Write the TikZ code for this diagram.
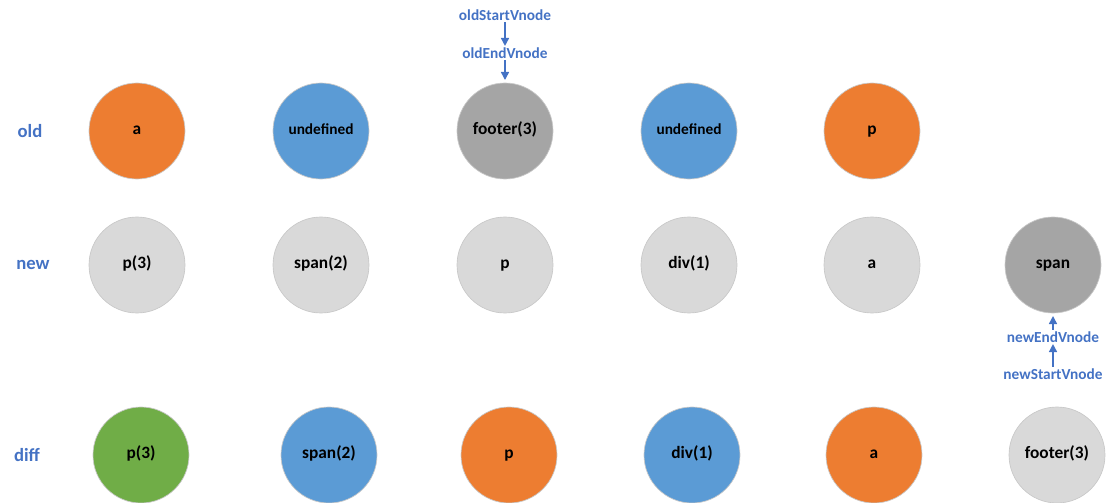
\documentclass[tikz,border=0pt]{standalone}
\usepackage{fontspec}
\setmainfont{Carlito}
\usetikzlibrary{arrows.meta}

\definecolor{vOrange}{RGB}{237,125,49}
\definecolor{vBlue}{RGB}{91,155,213}
\definecolor{vDark}{RGB}{165,165,165}
\definecolor{vLight}{RGB}{217,217,217}
\definecolor{vGreen}{RGB}{112,173,71}
\definecolor{vText}{RGB}{68,114,196}

\tikzset{
	vnode/.style={circle, minimum size=72pt, inner sep=0pt, draw={rgb, 255:red, 200; green, 200; blue, 200}, line width=0.5pt, font=\fontsize{13}{15}\selectfont\bfseries, text=black, text height=1.5ex, text depth=0.5ex},
	smalltext/.style={font=\fontsize{11.5}{13}\selectfont\bfseries},
	rowlabel/.style={font=\fontsize{14}{16}\selectfont\bfseries, text=vText},
	ptrlabel/.style={font=\fontsize{11.5}{13}\selectfont\bfseries, text=vText, inner sep=1pt},
	ptrarrow/.style={draw=vText, line width=1.1pt, -{Triangle[width=6pt,length=6pt]}}
}

\begin{document}
\begin{tikzpicture}[x=0.75pt,y=0.75pt,yscale=-1,xscale=1]
	\useasboundingbox (0,0) rectangle (1114,503);

	% Row labels
	\node [rowlabel] (lold) at (30,131) {old};
	\node [rowlabel] (lnew) at (33,265) {new};
	\node [rowlabel] (ldiff) at (27,455) {diff};

	% old vnodes
	\node [vnode, fill=vOrange] (o1) at (137,131) {a};
	\node [vnode, smalltext, fill=vBlue] (o2) at (321,131) {undefined};
	\node [vnode, fill=vDark] (o3) at (505,131) {footer(3)};
	\node [vnode, smalltext, fill=vBlue] (o4) at (689,131) {undefined};
	\node [vnode, fill=vOrange] (o5) at (872,131) {p};

	% new vnodes
	\node [vnode, fill=vLight] (n1) at (137,265) {p(3)};
	\node [vnode, fill=vLight] (n2) at (321,265) {span(2)};
	\node [vnode, fill=vLight] (n3) at (505,265) {p};
	\node [vnode, fill=vLight] (n4) at (689,265) {div(1)};
	\node [vnode, fill=vLight] (n5) at (872,265) {a};
	\node [vnode, fill=vDark] (n6) at (1053,265) {span};

	% diff vnodes
	\node [vnode, fill=vGreen] (d1) at (141,455) {p(3)};
	\node [vnode, fill=vBlue] (d2) at (329,455) {span(2)};
	\node [vnode, fill=vOrange] (d3) at (509,455) {p};
	\node [vnode, fill=vBlue] (d4) at (692,455) {div(1)};
	\node [vnode, fill=vOrange] (d5) at (874,455) {a};
	\node [vnode, fill=vLight] (d6) at (1057,455) {footer(3)};

	% old pointers
	\node [ptrlabel] (oldStart) at (505,15) {oldStartVnode};
	\node [ptrlabel] (oldEnd) at (505,53) {oldEndVnode};
	\draw [ptrarrow] (oldStart) -- (oldEnd);
	\draw [ptrarrow, shorten >=2pt] (oldEnd) -- (o3);

	% new pointers
	\node [ptrlabel] (newEnd) at (1053,337) {newEndVnode};
	\node [ptrlabel] (newStart) at (1053,374) {newStartVnode};
	\draw [ptrarrow] (newStart) -- (newEnd);
	\draw [ptrarrow, shorten >=2pt] (newEnd) -- (n6);

\end{tikzpicture}
\end{document}
